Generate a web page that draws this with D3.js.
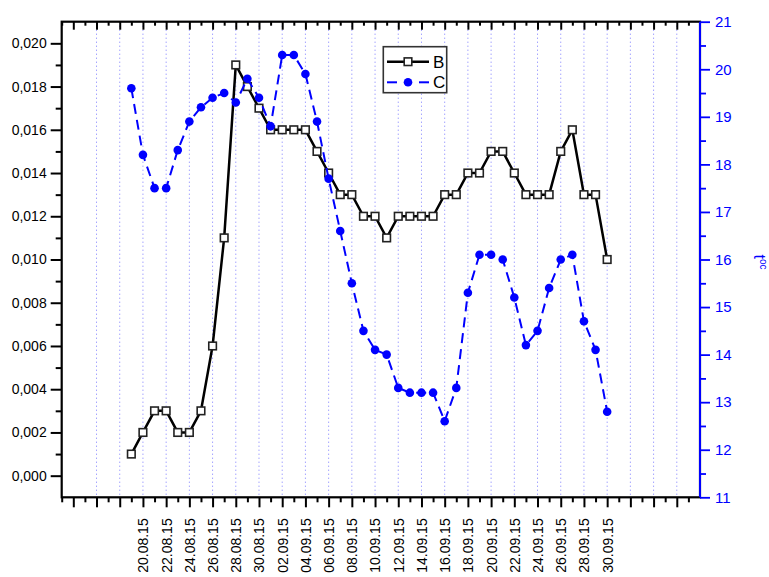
<!DOCTYPE html>
<html><head><meta charset="utf-8">
<script src="https://cdn.jsdelivr.net/npm/d3@7"></script>
<style>body{margin:0;background:#fff}text{font-family:Arial,"Liberation Sans",sans-serif}</style>
</head><body>
<svg id="chart" width="769" height="577"></svg>
<script>
// ---- data ----
const tickLabels = ["20.08.15","22.08.15","24.08.15","26.08.15","28.08.15","30.08.15","02.09.15","04.09.15","06.09.15","08.09.15","10.09.15","12.09.15","14.09.15","16.09.15","18.09.15","20.09.15","22.09.15","24.09.15","26.09.15","28.09.15","30.09.15"];
const seriesB = [0.001,0.002,0.003,0.003,0.002,0.002,0.003,0.006,0.011,0.019,
                 0.018,0.017,0.016,0.016,0.016,0.016,0.015,0.014,0.013,0.013,
                 0.012,0.012,0.011,0.012,0.012,0.012,0.012,0.013,0.013,0.014,
                 0.014,0.015,0.015,0.014,0.013,0.013,0.013,0.015,0.016,0.013,
                 0.013,0.010];
const seriesC = [19.6,18.2,17.5,17.5,18.3,18.9,19.2,19.4,19.5,19.3,
                 19.8,19.4,18.8,20.3,20.3,19.9,18.9,17.7,16.6,15.5,
                 14.5,14.1,14.0,13.3,13.2,13.2,13.2,12.6,13.3,15.3,
                 16.1,16.1,16.0,15.2,14.2,14.5,15.4,16.0,16.1,14.7,
                 14.1,12.8];
const seriesNames = ["B","C"];
const leftTicks = ["0,000","0,002","0,004","0,006","0,008","0,010","0,012","0,014","0,016","0,018","0,020"];
const rightTicks = [11,12,13,14,15,16,17,18,19,20,21];

// ---- layout ----
const L=61.7, R=700, T=21.7, B=497.3;
const svg = d3.select("#chart");
const x = d3.scaleLinear().domain([-6,49]).range([L,R]);
const yL = d3.scaleLinear().domain([-0.001,0.021]).range([B,T]);
const yR = d3.scaleLinear().domain([11,21]).range([B,T]);
const blue = "#0000ff";

const labelIdx = tickLabels.map((d,k)=>2*k+1);
const majorX = d3.range(-5,48,2);
const minorX = d3.range(-6,50,2);

// grid
svg.append("g").selectAll("line").data(majorX.filter(v=>v>=-3)).join("line")
  .attr("x1",d=>x(d)).attr("x2",d=>x(d)).attr("y1",T).attr("y2",B)
  .attr("stroke","#7a7aff").attr("stroke-width",1).attr("stroke-dasharray","1,3");

function style(g,color,w){
  g.selectAll(".domain").remove();
  g.selectAll("line").attr("stroke",color).attr("stroke-width",w);
}
// bottom axis
const gb = svg.append("g").attr("transform",`translate(0,${B})`)
  .call(d3.axisBottom(x).tickValues(majorX).tickSizeInner(10).tickSizeOuter(0)
    .tickFormat(d=>{const k=labelIdx.indexOf(d);return k>=0?tickLabels[k]:"";}));
style(gb,"#000",2);
gb.selectAll("text").attr("x",0).attr("y",0).attr("dy","0.35em")
  .attr("text-anchor","end").attr("font-size",14).attr("fill","#000")
  .attr("transform","translate(0,21) rotate(-90)");
const gbm = svg.append("g").attr("transform",`translate(0,${B})`)
  .call(d3.axisBottom(x).tickValues(minorX).tickSizeInner(5).tickSizeOuter(0).tickFormat(""));
style(gbm,"#000",2);
// top axis
const gt = svg.append("g").attr("transform",`translate(0,${T})`)
  .call(d3.axisTop(x).tickValues(majorX).tickSizeInner(-8).tickSizeOuter(0).tickFormat(""));
style(gt,"#000",2);
const gtm = svg.append("g").attr("transform",`translate(0,${T})`)
  .call(d3.axisTop(x).tickValues(minorX).tickSizeInner(-4).tickSizeOuter(0).tickFormat(""));
style(gtm,"#000",2);
// left axis
const leftVals = leftTicks.map(s=>+s.replace(",","."));
const gl = svg.append("g").attr("transform",`translate(${L},0)`)
  .call(d3.axisLeft(yL).tickValues(leftVals).tickSizeInner(11).tickSizeOuter(0)
    .tickFormat((d,i)=>leftTicks[i]));
style(gl,"#000",2);
gl.selectAll("text").attr("font-size",14).attr("fill","#000").attr("x",-15);
const gll = svg.append("g").attr("transform",`translate(${L},0)`)
  .call(d3.axisLeft(yL).tickValues(leftVals.slice(0,-1).map(v=>v+0.001)).tickSizeInner(6).tickSizeOuter(0).tickFormat(""));
style(gll,"#000",2);
// frame
svg.append("rect").attr("x",L).attr("y",T).attr("width",R-L).attr("height",B-T)
  .attr("fill","none").attr("stroke","#000").attr("stroke-width",2.2);
// right axis
const gr = svg.append("g").attr("transform",`translate(${R},0)`)
  .call(d3.axisRight(yR).tickValues(rightTicks).tickSizeInner(10).tickSizeOuter(0));
style(gr,blue,1.8);
gr.selectAll("text").attr("font-size",15).attr("fill",blue).attr("x",15);
const grm = svg.append("g").attr("transform",`translate(${R},0)`)
  .call(d3.axisRight(yR).tickValues(rightTicks.slice(0,-1).map(v=>v+0.5)).tickSizeInner(6).tickSizeOuter(0).tickFormat(""));
style(grm,blue,1.8);
svg.append("line").attr("x1",R).attr("x2",R).attr("y1",T).attr("y2",B).attr("stroke",blue).attr("stroke-width",2);
const rt = svg.append("text").attr("transform","translate(754,262) rotate(90)")
  .attr("text-anchor","middle").attr("fill",blue).attr("font-size",16);
rt.append("tspan").text("t");
rt.append("tspan").attr("font-size",10).attr("dy",-6).text("oc");

// series B
svg.append("path").datum(seriesB)
  .attr("d",d3.line().x((d,i)=>x(i)).y(d=>yL(d)))
  .attr("fill","none").attr("stroke","#000").attr("stroke-width",2.5);
svg.append("g").selectAll("rect").data(seriesB).join("rect")
  .attr("x",(d,i)=>x(i)-3.8).attr("y",d=>yL(d)-3.8).attr("width",7.6).attr("height",7.6)
  .attr("fill","#fff").attr("stroke","#222").attr("stroke-width",1.6);
// series C
svg.append("path").datum(seriesC)
  .attr("d",d3.line().x((d,i)=>x(i)).y(d=>yR(d)))
  .attr("fill","none").attr("stroke",blue).attr("stroke-width",2).attr("stroke-dasharray","10,6");
svg.append("g").selectAll("circle").data(seriesC).join("circle")
  .attr("cx",(d,i)=>x(i)).attr("cy",d=>yR(d)).attr("r",4.3).attr("fill",blue);

// legend
const lg = svg.append("g");
lg.append("rect").attr("x",383.3).attr("y",46.7).attr("width",63.4).attr("height",46)
  .attr("fill","#fff").attr("stroke","#333").attr("stroke-width",1.6);
lg.append("line").attr("x1",387).attr("x2",429).attr("y1",61.7).attr("y2",61.7).attr("stroke","#000").attr("stroke-width",2.5);
lg.append("rect").attr("x",408-3.8).attr("y",61.7-3.8).attr("width",7.6).attr("height",7.6)
  .attr("fill","#fff").attr("stroke","#222").attr("stroke-width",1.6);
lg.append("line").attr("x1",387).attr("x2",397).attr("y1",82.3).attr("y2",82.3).attr("stroke",blue).attr("stroke-width",2);
lg.append("line").attr("x1",419).attr("x2",429).attr("y1",82.3).attr("y2",82.3).attr("stroke",blue).attr("stroke-width",2);
lg.append("circle").attr("cx",408).attr("cy",82.3).attr("r",4.3).attr("fill",blue);
lg.selectAll("text.lt").data(seriesNames).join("text").attr("class","lt")
  .attr("x",433).attr("y",(d,i)=>61.7+i*20.6).attr("dy","0.36em").attr("font-size",17).attr("fill","#000").text(d=>d);
</script>
</body></html>
